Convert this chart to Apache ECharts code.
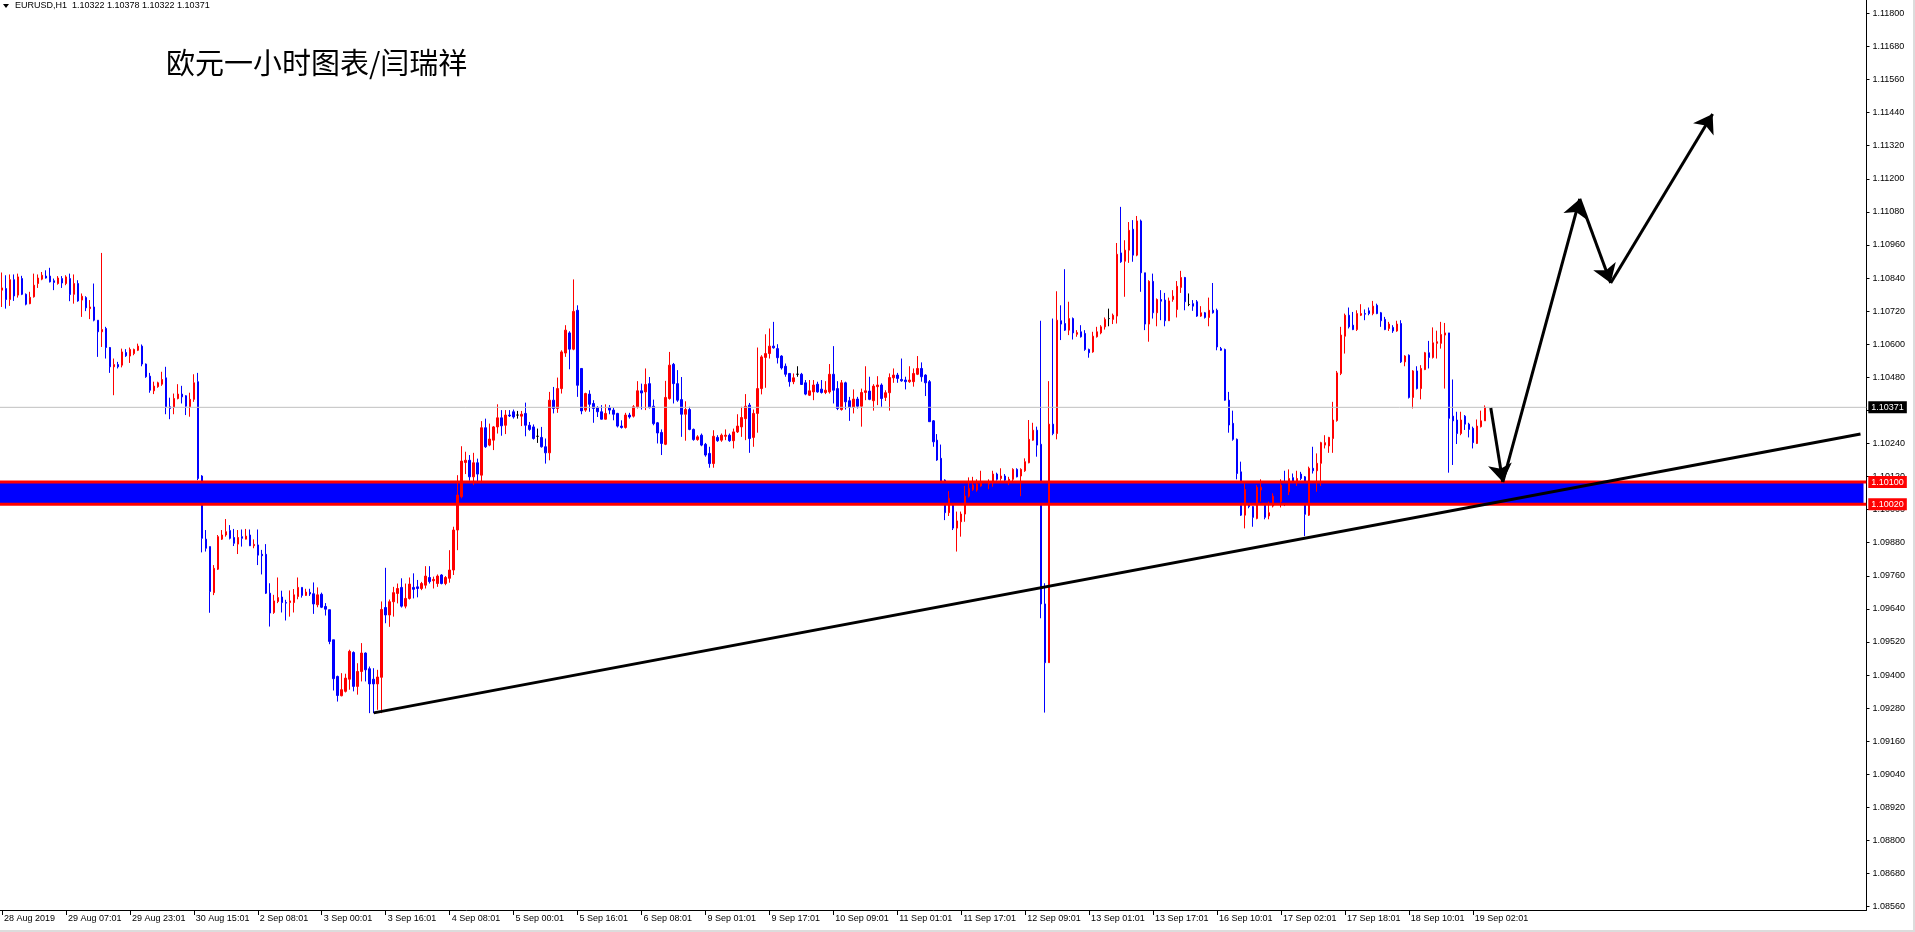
<!DOCTYPE html>
<html><head><meta charset="utf-8">
<script src="https://cdn.jsdelivr.net/npm/echarts@6/dist/echarts.min.js"></script>
<style>html,body{margin:0;padding:0;background:#fff;overflow:hidden}#c{width:1915px;height:932px}</style>
</head><body><div id="c"></div>
<script>
// ---------- data ----------
const headerText = 'EURUSD,H1  1.10322 1.10378 1.10322 1.10371';
const titleText = '欧元一小时图表/闫瑞祥';
const slotCount = 467;           // bar slots incl. empty future area
const tickStep = 16;             // one time label every 16 bars
const tickLabels = ['28 Aug 2019','29 Aug 07:01','29 Aug 23:01','30 Aug 15:01','2 Sep 08:01','3 Sep 00:01','3 Sep 16:01','4 Sep 08:01','5 Sep 00:01','5 Sep 16:01','6 Sep 08:01','9 Sep 01:01','9 Sep 17:01','10 Sep 09:01','11 Sep 01:01','11 Sep 17:01','12 Sep 09:01','13 Sep 01:01','13 Sep 17:01','16 Sep 10:01','17 Sep 02:01','17 Sep 18:01','18 Sep 10:01','19 Sep 02:01'];
const priceMin = 1.0856, priceMax = 1.118483, priceStep = 0.0012;

const open = [
1.10796,1.10802,1.10762,1.10834,1.10778,1.10838,1.10781,1.10747,1.10772,1.10820,
1.10836,1.10847,1.10847,1.10830,1.10820,1.10838,1.10820,1.10838,1.10781,1.10820,
1.10760,1.10769,1.10729,1.10735,1.10687,1.10645,1.10657,1.10588,1.10518,1.10526,
1.10524,1.10570,1.10557,1.10566,1.10578,1.10593,1.10528,1.10484,1.10431,1.10446,
1.10455,1.10478,1.10373,1.10371,1.10403,1.10419,1.10413,1.10373,1.10400,1.10464,
1.10122,1.09893,1.09866,1.09699,1.09784,1.09893,1.09908,1.09924,1.09899,1.09875,
1.09902,1.09893,1.09908,1.09869,1.09872,1.09838,1.09838,1.09697,1.09627,1.09667,
1.09683,1.09663,1.09663,1.09663,1.09685,1.09718,1.09689,1.09700,1.09695,1.09655,
1.09693,1.09649,1.09637,1.09528,1.09395,1.09325,1.09341,1.09385,1.09482,1.09359,
1.09413,1.09480,1.09423,1.09385,1.09368,1.09392,1.09645,1.09618,1.09666,1.09696,
1.09718,1.09650,1.09678,1.09718,1.09720,1.09714,1.09726,1.09754,1.09742,1.09732,
1.09763,1.09732,1.09751,1.09781,1.09926,1.10047,1.10171,1.10179,1.10119,1.10170,
1.10125,1.10297,1.10234,1.10252,1.10300,1.10333,1.10306,1.10343,1.10355,1.10343,
1.10339,1.10349,1.10306,1.10300,1.10266,1.10262,1.10228,1.10206,1.10397,1.10367,
1.10439,1.10568,1.10641,1.10582,1.10723,1.10512,1.10361,1.10419,1.10385,1.10370,
1.10355,1.10328,1.10370,1.10361,1.10349,1.10303,1.10298,1.10343,1.10339,1.10373,
1.10431,1.10427,1.10457,1.10375,1.10315,1.10280,1.10237,1.10403,1.10527,1.10457,
1.10399,1.10346,1.10363,1.10291,1.10254,1.10270,1.10237,1.10204,1.10167,1.10262,
1.10252,1.10266,1.10270,1.10250,1.10282,1.10300,1.10330,1.10379,1.10262,1.10349,
1.10439,1.10552,1.10566,1.10593,1.10584,1.10557,1.10520,1.10494,1.10464,1.10491,
1.10491,1.10460,1.10415,1.10427,1.10455,1.10437,1.10425,1.10427,1.10491,1.10439,
1.10363,1.10460,1.10395,1.10371,1.10401,1.10375,1.10425,1.10430,1.10395,1.10446,
1.10452,1.10407,1.10424,1.10478,1.10488,1.10472,1.10470,1.10464,1.10464,1.10491,
1.10512,1.10488,1.10464,1.10322,1.10252,1.10186,1.10107,1.09989,1.10041,1.09933,
1.09956,1.09984,1.10049,1.10073,1.10071,1.10086,1.10095,1.10093,1.10098,1.10129,
1.10113,1.10122,1.10105,1.10110,1.10146,1.10122,1.10141,1.10170,1.10252,1.10288,
1.10237,1.09658,1.09445,1.10310,1.10276,1.10685,1.10675,1.10651,1.10693,1.10636,
1.10645,1.10639,1.10581,1.10572,1.10627,1.10641,1.10663,1.10693,1.10690,1.10702,
1.10931,1.10901,1.10941,1.11017,1.10923,1.11047,1.10859,1.10673,1.10828,1.10714,
1.10762,1.10760,1.10685,1.10762,1.10726,1.10806,1.10842,1.10744,1.10747,1.10754,
1.10702,1.10714,1.10697,1.10723,1.10723,1.10584,1.10581,1.10397,1.10313,1.10255,
1.10137,1.09980,1.10071,1.10011,1.09968,1.10071,1.10029,1.09977,1.10013,1.10043,
1.10029,1.10098,1.10065,1.10116,1.10098,1.10129,1.10119,1.09980,1.10150,1.10141,
1.10168,1.10234,1.10231,1.10258,1.10323,1.10494,1.10629,1.10705,1.10669,1.10653,
1.10705,1.10711,1.10721,1.10711,1.10741,1.10714,1.10690,1.10657,1.10661,1.10648,
1.10675,1.10536,1.10560,1.10407,1.10503,1.10439,1.10508,1.10569,1.10552,1.10603,
1.10603,1.10633,1.10641,1.10339,1.10325,1.10276,1.10339,1.10310,1.10295,1.10240,
1.10301,1.10322];

const high = [
1.10860,1.10850,1.10853,1.10853,1.10856,1.10848,1.10784,1.10790,1.10856,1.10853,
1.10862,1.10868,1.10877,1.10838,1.10847,1.10847,1.10850,1.10856,1.10853,1.10832,
1.10784,1.10774,1.10760,1.10820,1.10687,1.10931,1.10663,1.10590,1.10548,1.10536,
1.10584,1.10582,1.10588,1.10584,1.10602,1.10599,1.10530,1.10496,1.10464,1.10464,
1.10500,1.10518,1.10406,1.10421,1.10455,1.10449,1.10415,1.10424,1.10491,1.10496,
1.10125,1.09926,1.09866,1.09799,1.09908,1.09926,1.09966,1.09944,1.09930,1.09926,
1.09928,1.09930,1.09928,1.09892,1.09928,1.09854,1.09875,1.09733,1.09691,1.09754,
1.09706,1.09673,1.09707,1.09712,1.09754,1.09718,1.09713,1.09713,1.09736,1.09718,
1.09699,1.09661,1.09637,1.09528,1.09398,1.09407,1.09405,1.09492,1.09486,1.09443,
1.09516,1.09482,1.09431,1.09425,1.09419,1.09667,1.09789,1.09674,1.09720,1.09732,
1.09751,1.09732,1.09754,1.09769,1.09745,1.09738,1.09795,1.09795,1.09757,1.09765,
1.09766,1.09759,1.09853,1.09938,1.10125,1.10230,1.10210,1.10198,1.10206,1.10185,
1.10321,1.10330,1.10312,1.10303,1.10382,1.10361,1.10361,1.10361,1.10363,1.10358,
1.10358,1.10388,1.10318,1.10309,1.10294,1.10300,1.10258,1.10427,1.10445,1.10479,
1.10578,1.10669,1.10647,1.10835,1.10741,1.10512,1.10424,1.10433,1.10397,1.10375,
1.10379,1.10382,1.10379,1.10370,1.10351,1.10324,1.10351,1.10351,1.10379,1.10466,
1.10457,1.10512,1.10481,1.10399,1.10318,1.10291,1.10467,1.10572,1.10532,1.10506,
1.10481,1.10393,1.10373,1.10294,1.10270,1.10276,1.10242,1.10228,1.10288,1.10270,
1.10276,1.10291,1.10276,1.10294,1.10346,1.10373,1.10419,1.10387,1.10363,1.10588,
1.10560,1.10636,1.10657,1.10681,1.10600,1.10560,1.10530,1.10494,1.10494,1.10520,
1.10496,1.10470,1.10470,1.10470,1.10464,1.10470,1.10466,1.10528,1.10593,1.10466,
1.10470,1.10464,1.10409,1.10436,1.10409,1.10439,1.10520,1.10482,1.10455,1.10484,
1.10458,1.10433,1.10494,1.10512,1.10496,1.10548,1.10482,1.10520,1.10512,1.10557,
1.10534,1.10491,1.10470,1.10325,1.10274,1.10236,1.10110,1.10067,1.10047,1.09993,
1.09993,1.10086,1.10117,1.10119,1.10110,1.10141,1.10101,1.10110,1.10141,1.10134,
1.10150,1.10129,1.10119,1.10150,1.10150,1.10150,1.10186,1.10325,1.10315,1.10301,
1.10685,1.09733,1.10466,1.10693,1.10792,1.10741,1.10872,1.10754,1.10697,1.10651,
1.10669,1.10651,1.10584,1.10645,1.10663,1.10669,1.10697,1.10729,1.10711,1.10967,
1.11098,1.10977,1.11043,1.11050,1.11065,1.11052,1.10859,1.10832,1.10856,1.10766,
1.10796,1.10786,1.10769,1.10796,1.10829,1.10866,1.10844,1.10784,1.10760,1.10760,
1.10738,1.10717,1.10769,1.10822,1.10729,1.10590,1.10584,1.10427,1.10359,1.10258,
1.10174,1.10095,1.10095,1.10013,1.10089,1.10110,1.10035,1.10029,1.10059,1.10053,
1.10110,1.10141,1.10146,1.10131,1.10141,1.10137,1.10122,1.10156,1.10228,1.10204,
1.10246,1.10270,1.10264,1.10391,1.10503,1.10663,1.10711,1.10733,1.10717,1.10723,
1.10745,1.10726,1.10733,1.10757,1.10747,1.10717,1.10699,1.10681,1.10669,1.10685,
1.10687,1.10560,1.10563,1.10506,1.10520,1.10524,1.10572,1.10612,1.10661,1.10649,
1.10681,1.10677,1.10641,1.10472,1.10355,1.10355,1.10343,1.10315,1.10301,1.10327,
1.10359,1.10378];

const low = [
1.10735,1.10729,1.10739,1.10757,1.10769,1.10778,1.10741,1.10745,1.10769,1.10804,
1.10832,1.10838,1.10824,1.10796,1.10816,1.10804,1.10814,1.10756,1.10747,1.10754,
1.10699,1.10720,1.10691,1.10683,1.10554,1.10590,1.10548,1.10496,1.10415,1.10512,
1.10516,1.10554,1.10532,1.10560,1.10575,1.10520,1.10478,1.10424,1.10419,1.10442,
1.10449,1.10346,1.10328,1.10346,1.10400,1.10385,1.10343,1.10337,1.10391,1.10107,
1.09845,1.09848,1.09626,1.09690,1.09781,1.09890,1.09902,1.09892,1.09868,1.09839,
1.09866,1.09892,1.09868,1.09860,1.09799,1.09765,1.09694,1.09576,1.09622,1.09661,
1.09627,1.09598,1.09612,1.09627,1.09675,1.09681,1.09687,1.09687,1.09622,1.09646,
1.09643,1.09616,1.09512,1.09344,1.09304,1.09323,1.09337,1.09347,1.09341,1.09329,
1.09377,1.09377,1.09262,1.09262,1.09274,1.09262,1.09588,1.09575,1.09612,1.09660,
1.09645,1.09642,1.09674,1.09678,1.09682,1.09708,1.09714,1.09732,1.09714,1.09720,
1.09729,1.09726,1.09735,1.09763,1.09853,1.10041,1.10129,1.10105,1.10089,1.10095,
1.10101,1.10224,1.10230,1.10216,1.10276,1.10268,1.10274,1.10336,1.10330,1.10330,
1.10303,1.10266,1.10286,1.10254,1.10242,1.10225,1.10167,1.10179,1.10349,1.10351,
1.10421,1.10554,1.10509,1.10578,1.10409,1.10346,1.10355,1.10355,1.10315,1.10336,
1.10327,1.10327,1.10346,1.10324,1.10298,1.10294,1.10294,1.10330,1.10334,1.10367,
1.10363,1.10361,1.10367,1.10306,1.10240,1.10198,1.10234,1.10399,1.10385,1.10391,
1.10264,1.10250,1.10288,1.10250,1.10250,1.10230,1.10192,1.10152,1.10152,1.10246,
1.10246,1.10252,1.10246,1.10222,1.10278,1.10264,1.10252,1.10206,1.10228,1.10279,
1.10418,1.10442,1.10548,1.10584,1.10530,1.10508,1.10482,1.10446,1.10455,1.10482,
1.10452,1.10415,1.10412,1.10397,1.10424,1.10421,1.10419,1.10421,1.10385,1.10361,
1.10359,1.10363,1.10322,1.10349,1.10367,1.10301,1.10397,1.10397,1.10359,1.10379,
1.10373,1.10394,1.10359,1.10460,1.10460,1.10464,1.10436,1.10460,1.10446,1.10488,
1.10464,1.10412,1.10319,1.10228,1.10177,1.10083,1.09962,1.09977,1.09926,1.09848,
1.09902,1.09956,1.10044,1.10068,1.10065,1.10083,1.10077,1.10074,1.10083,1.10105,
1.10105,1.10098,1.10089,1.10101,1.10117,1.10049,1.10137,1.10168,1.10250,1.10192,
1.09606,1.09264,1.09445,1.10270,1.10255,1.10615,1.10648,1.10633,1.10617,1.10627,
1.10624,1.10576,1.10551,1.10569,1.10624,1.10636,1.10653,1.10665,1.10673,1.10675,
1.10895,1.10772,1.10895,1.10899,1.10919,1.10790,1.10651,1.10609,1.10693,1.10665,
1.10687,1.10665,1.10685,1.10754,1.10697,1.10786,1.10723,1.10738,1.10721,1.10699,
1.10699,1.10693,1.10665,1.10711,1.10578,1.10576,1.10395,1.10279,1.10250,1.10110,
1.09977,1.09932,1.10005,1.09938,1.09965,1.10029,1.09965,1.09965,1.10008,1.10017,
1.10008,1.10013,1.10053,1.10083,1.10086,1.10107,1.09904,1.09977,1.10131,1.10065,
1.10086,1.10222,1.10206,1.10206,1.10319,1.10488,1.10566,1.10657,1.10651,1.10648,
1.10702,1.10687,1.10705,1.10705,1.10709,1.10663,1.10651,1.10648,1.10641,1.10645,
1.10532,1.10520,1.10403,1.10367,1.10436,1.10400,1.10506,1.10512,1.10548,1.10548,
1.10584,1.10439,1.10134,1.10162,1.10238,1.10270,1.10289,1.10262,1.10222,1.10238,
1.10298,1.10322];

const close = [
1.10804,1.10762,1.10834,1.10775,1.10844,1.10781,1.10745,1.10770,1.10814,1.10840,
1.10850,1.10840,1.10826,1.10824,1.10840,1.10822,1.10844,1.10780,1.10820,1.10757,
1.10774,1.10732,1.10735,1.10687,1.10645,1.10653,1.10588,1.10518,1.10526,1.10518,
1.10572,1.10558,1.10581,1.10581,1.10593,1.10528,1.10482,1.10433,1.10448,1.10460,
1.10472,1.10373,1.10367,1.10403,1.10419,1.10409,1.10375,1.10400,1.10460,1.10113,
1.09896,1.09860,1.09703,1.09787,1.09902,1.09908,1.09920,1.09896,1.09878,1.09899,
1.09896,1.09904,1.09869,1.09874,1.09835,1.09833,1.09697,1.09625,1.09669,1.09681,
1.09663,1.09661,1.09669,1.09691,1.09718,1.09689,1.09701,1.09694,1.09658,1.09691,
1.09646,1.09639,1.09522,1.09387,1.09326,1.09347,1.09389,1.09486,1.09359,1.09413,
1.09480,1.09419,1.09368,1.09368,1.09393,1.09638,1.09618,1.09666,1.09699,1.09714,
1.09650,1.09678,1.09730,1.09711,1.09714,1.09732,1.09759,1.09739,1.09747,1.09759,
1.09732,1.09754,1.09781,1.09926,1.10053,1.10176,1.10179,1.10119,1.10170,1.10129,
1.10297,1.10228,1.10256,1.10300,1.10333,1.10304,1.10343,1.10340,1.10336,1.10343,
1.10346,1.10306,1.10291,1.10258,1.10266,1.10228,1.10206,1.10397,1.10367,1.10439,
1.10572,1.10651,1.10582,1.10719,1.10451,1.10358,1.10421,1.10382,1.10367,1.10355,
1.10328,1.10349,1.10361,1.10346,1.10303,1.10298,1.10343,1.10336,1.10373,1.10431,
1.10423,1.10454,1.10370,1.10312,1.10278,1.10240,1.10407,1.10524,1.10457,1.10397,
1.10346,1.10363,1.10291,1.10254,1.10264,1.10234,1.10198,1.10167,1.10266,1.10250,
1.10270,1.10270,1.10250,1.10282,1.10303,1.10334,1.10375,1.10258,1.10349,1.10439,
1.10554,1.10566,1.10593,1.10587,1.10551,1.10514,1.10491,1.10464,1.10478,1.10491,
1.10454,1.10419,1.10431,1.10452,1.10427,1.10425,1.10433,1.10491,1.10433,1.10367,
1.10460,1.10391,1.10371,1.10401,1.10375,1.10425,1.10431,1.10400,1.10448,1.10452,
1.10403,1.10424,1.10479,1.10488,1.10476,1.10467,1.10464,1.10470,1.10494,1.10512,
1.10482,1.10460,1.10319,1.10246,1.10180,1.10101,1.09989,1.10041,1.09933,1.09959,
1.09984,1.10049,1.10077,1.10089,1.10093,1.10101,1.10083,1.10101,1.10129,1.10110,
1.10122,1.10107,1.10110,1.10146,1.10119,1.10146,1.10174,1.10255,1.10288,1.10234,
1.09658,1.09445,1.10310,1.10276,1.10687,1.10673,1.10651,1.10693,1.10641,1.10642,
1.10627,1.10581,1.10569,1.10629,1.10645,1.10663,1.10690,1.10693,1.10705,1.10926,
1.10899,1.10941,1.11013,1.10923,1.11047,1.10859,1.10673,1.10828,1.10714,1.10762,
1.10756,1.10685,1.10757,1.10774,1.10810,1.10842,1.10754,1.10744,1.10738,1.10702,
1.10714,1.10697,1.10723,1.10714,1.10590,1.10578,1.10397,1.10307,1.10255,1.10131,
1.09980,1.10073,1.10011,1.09972,1.10081,1.10081,1.09972,1.09989,1.10049,1.10035,
1.10089,1.10093,1.10113,1.10098,1.10113,1.10113,1.09983,1.10150,1.10141,1.10168,
1.10243,1.10243,1.10262,1.10325,1.10496,1.10633,1.10705,1.10663,1.10653,1.10711,
1.10711,1.10709,1.10711,1.10738,1.10711,1.10685,1.10653,1.10673,1.10648,1.10673,
1.10536,1.10557,1.10407,1.10503,1.10439,1.10512,1.10569,1.10552,1.10605,1.10609,
1.10635,1.10641,1.10331,1.10322,1.10276,1.10325,1.10310,1.10291,1.10243,1.10303,
1.10322,1.10371];

const currentPrice = 1.10371;
const zoneTop = 1.10100, zoneBottom = 1.10020;
const levelSpan = [-1, 466.45];           // bar extent of the horizontal levels
const zoneSpan = [-1, 465.75];            // bar extent of the rectangle
const trendLine = [[93, 1.09263], [465, 1.10274]];
const arrowPath = [[372.5, 1.10369], [375.5, 1.10100], [394.75, 1.11127], [402.5, 1.10822], [428, 1.11435]];

// ---------- chart ----------
const FONT = '"Liberation Sans", Arial, sans-serif';
const categories = Array.from({length: slotCount}, (_, i) => String(i));
const candles = open.map((o, i) => [o, close[i], low[i], high[i]]);
const isTick = i => i % tickStep === 0 && (i / tickStep) < tickLabels.length;
const arrowSegments = arrowPath.slice(1).map((p, i) => ({coords: [arrowPath[i], p]}));
const levelLine = (price, color, width, bg, z) => ({
  type: 'line', xAxisIndex: 1, yAxisIndex: 0, z: z, silent: true, symbol: 'none', clip: false,
  data: [[levelSpan[0], price], [levelSpan[1], price]],
  lineStyle: {color: color, width: width, type: 'solid'},
  endLabel: {show: true, formatter: () => price.toFixed(5), distance: 2, color: '#fff', backgroundColor: bg,
    padding: [2, 3, 1, 3], fontFamily: FONT, fontSize: 9}
});

const chart = echarts.init(document.getElementById('c'), null, {renderer: 'canvas'});
chart.setOption({
  animation: false,
  backgroundColor: '#ffffff',
  grid: [
    {left: -1.5, width: 1868, top: 0, height: 906.7},
    {left: -1.5, width: 1868, top: 0, height: 910}
  ],
  xAxis: [
    {type: 'category', gridIndex: 0, data: categories, show: false, boundaryGap: true, axisLine: {onZero: false}},
    {type: 'value', gridIndex: 0, min: -0.5, max: slotCount - 0.5, show: false, axisLine: {onZero: false}},
    {type: 'category', gridIndex: 1, data: categories, boundaryGap: true,
      axisLine: {show: true, onZero: false, lineStyle: {color: '#000', width: 1}},
      axisTick: {show: true, alignWithLabel: true, interval: i => isTick(i), length: 5, lineStyle: {color: '#000'}},
      axisLabel: {show: true, interval: i => isTick(i), formatter: (v, i) => tickLabels[i / tickStep] || '',
        align: 'left', margin: 4, padding: [0, 0, 0, 2], color: '#000', fontFamily: FONT, fontSize: 9},
      splitLine: {show: false}}
  ],
  yAxis: [
    {type: 'value', gridIndex: 0, position: 'right', min: priceMin, max: priceMax, interval: priceStep,
      axisLine: {show: false, onZero: false},
      axisTick: {show: true, length: 3, lineStyle: {color: '#000'}},
      axisLabel: {show: true, margin: 6, formatter: v => v.toFixed(5), showMinLabel: true, showMaxLabel: false,
        color: '#000', fontFamily: FONT, fontSize: 9},
      splitLine: {show: false}},
    {type: 'value', gridIndex: 1, position: 'right', min: 0, max: 1,
      axisLine: {show: true, onZero: false, lineStyle: {color: '#000', width: 1}},
      axisTick: {show: false}, axisLabel: {show: false}, splitLine: {show: false}}
  ],
  series: [
    {type: 'line', xAxisIndex: 1, yAxisIndex: 0, z: 1, silent: true, symbol: 'none',
      data: [[zoneSpan[0], zoneTop], [zoneSpan[1], zoneTop]], lineStyle: {opacity: 0},
      markArea: {silent: true, itemStyle: {color: '#0000ff', opacity: 1},
        data: [[{coord: [zoneSpan[0], zoneTop]}, {coord: [zoneSpan[1], zoneBottom]}]]}},
    {type: 'candlestick', xAxisIndex: 0, yAxisIndex: 0, data: candles, z: 2, barWidth: 2,
      itemStyle: {color: '#ff0000', color0: '#0000ff', borderColor: '#ff0000', borderColor0: '#0000ff',
        borderColorDoji: '#000000', borderWidth: 1}},
    levelLine(currentPrice, '#c0c0c0', 1, '#000000', 3),
    levelLine(zoneTop, '#ff0000', 3, '#ff0000', 3),
    levelLine(zoneBottom, '#ff0000', 3, '#ff0000', 3),
    {type: 'lines', coordinateSystem: 'cartesian2d', xAxisIndex: 1, yAxisIndex: 0, z: 4, silent: true,
      symbol: ['none', 'none'], lineStyle: {color: '#000', width: 3, opacity: 1}, data: [{coords: trendLine}]},
    {type: 'lines', coordinateSystem: 'cartesian2d', xAxisIndex: 1, yAxisIndex: 0, z: 5, silent: true,
      symbol: ['none', 'arrow'], symbolSize: 18, lineStyle: {color: '#000', width: 3, opacity: 1}, data: arrowSegments}
  ],
  graphic: [
    {type: 'polygon', shape: {points: [[3, 4], [9, 4], [6, 8]]}, style: {fill: '#000'}},
    {type: 'text', style: {x: 15, y: 6, text: headerText, fill: '#000', font: '9px ' + FONT, verticalAlign: 'middle'}},
    {type: 'text', style: {x: 166, y: 63, text: titleText, fill: '#000', font: '29px "Noto Sans CJK SC"', verticalAlign: 'middle'}},
    {type: 'rect', shape: {x: 1913, y: 0, width: 2, height: 932}, style: {fill: '#dcdcdc'}},
    {type: 'rect', shape: {x: 0, y: 930, width: 1915, height: 2}, style: {fill: '#dcdcdc'}}
  ]
});
</script>
</body></html>
